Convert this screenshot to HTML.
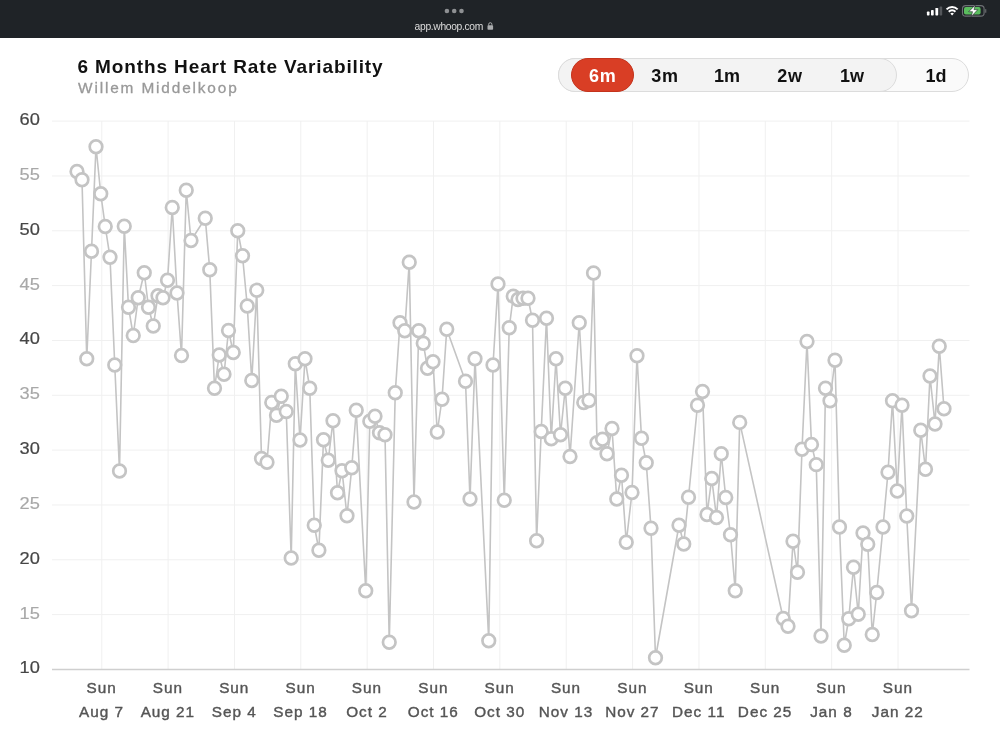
<!DOCTYPE html>
<html>
<head>
<meta charset="utf-8">
<title>6 Months Heart Rate Variability</title>
<style>
html,body{margin:0;padding:0;}
body{width:1000px;height:734px;overflow:hidden;background:#fff;position:relative;font-family:"Liberation Sans",sans-serif;}
.topbar{position:absolute;left:0;top:0;width:1000px;height:38px;background:#1f2327;}
.dots{position:absolute;top:8.75px;left:444.6px;}
.dots i{display:block;position:absolute;width:4.6px;height:4.6px;border-radius:50%;background:#8e9093;top:0;}
.url{position:absolute;top:19.5px;left:414.6px;color:#dcdcdc;font-size:10.3px;line-height:14px;white-space:nowrap;letter-spacing:-0.33px;}
.title{position:absolute;left:77.5px;top:53.5px;font-size:19px;line-height:26px;font-weight:bold;color:#111;white-space:nowrap;letter-spacing:0.88px;}
.sub{position:absolute;left:78px;top:77.8px;font-size:15.4px;line-height:20px;color:#999;white-space:nowrap;letter-spacing:1.85px;-webkit-text-stroke:0.3px #999;}
.pill{position:absolute;box-sizing:border-box;top:58px;height:34px;border-radius:17px;border:1px solid #dcdcdc;}
.outer{left:558px;width:411px;background:#fafafa;}
.inner{left:558px;width:338.5px;background:#f3f3f3;}
.active{left:571px;width:63px;background:#d93e25;border-color:#c4331c;}
.seg{position:absolute;top:58.6px;height:34px;line-height:34px;width:62px;text-align:center;font-size:18px;font-weight:bold;color:#111;}
.seg.w{letter-spacing:0.9px;text-indent:0.9px;}
.seg.on{color:#fff;}
.yl{position:absolute;left:0;width:39.9px;text-align:right;font-size:16px;line-height:20px;transform:scaleX(1.14);transform-origin:100% 50%;}
.yl.d{color:#464646;-webkit-text-stroke:0.2px #464646;}
.yl.l{color:#a8a8a8;-webkit-text-stroke:0.15px #a8a8a8;}
.xl{position:absolute;top:676.2px;width:80px;text-align:center;font-size:15.3px;line-height:23.4px;color:#555;white-space:nowrap;letter-spacing:1px;-webkit-text-stroke:0.4px #555;}
svg{position:absolute;left:0;top:0;}
</style>
</head>
<body>
<div class="topbar">
  <div class="url">app.whoop.com</div>
</div>
<div class="title">6 Months Heart Rate Variability</div>
<div class="sub">Willem Middelkoop</div>

<div class="pill outer"></div>
<div class="pill inner"></div>
<div class="pill active"></div>
<div class="seg on w" style="left:571.4px">6m</div>
<div class="seg w" style="left:633.6px">3m</div>
<div class="seg" style="left:696px">1m</div>
<div class="seg w" style="left:758.6px">2w</div>
<div class="seg" style="left:820.9px">1w</div>
<div class="seg" style="left:905px">1d</div>

<div class="yl d" style="top:658.45px">10</div>
<div class="yl l" style="top:603.62px">15</div>
<div class="yl d" style="top:548.78px">20</div>
<div class="yl l" style="top:493.95px">25</div>
<div class="yl d" style="top:439.11px">30</div>
<div class="yl l" style="top:384.27px">35</div>
<div class="yl d" style="top:329.44px">40</div>
<div class="yl l" style="top:274.61px">45</div>
<div class="yl d" style="top:219.77px">50</div>
<div class="yl l" style="top:164.94px">55</div>
<div class="yl d" style="top:110.1px">60</div>

<div class="xl" style="left:61.55px"><span>Sun</span><br><span>Aug 7</span></div>
<div class="xl" style="left:127.9px"><span>Sun</span><br><span>Aug 21</span></div>
<div class="xl" style="left:194.26px"><span>Sun</span><br><span>Sep 4</span></div>
<div class="xl" style="left:260.61px"><span>Sun</span><br><span>Sep 18</span></div>
<div class="xl" style="left:326.97px"><span>Sun</span><br><span>Oct 2</span></div>
<div class="xl" style="left:393.32px"><span>Sun</span><br><span>Oct 16</span></div>
<div class="xl" style="left:459.67px"><span>Sun</span><br><span>Oct 30</span></div>
<div class="xl" style="left:526.03px"><span>Sun</span><br><span>Nov 13</span></div>
<div class="xl" style="left:592.38px"><span>Sun</span><br><span>Nov 27</span></div>
<div class="xl" style="left:658.74px"><span>Sun</span><br><span>Dec 11</span></div>
<div class="xl" style="left:725.09px"><span>Sun</span><br><span>Dec 25</span></div>
<div class="xl" style="left:791.44px"><span>Sun</span><br><span>Jan 8</span></div>
<div class="xl" style="left:857.8px"><span>Sun</span><br><span>Jan 22</span></div>


<svg width="1000" height="734" viewBox="0 0 1000 734">
  <g stroke="#f0f0f0" stroke-width="1" fill="none">
<line x1="52" x2="969.5" y1="614.62" y2="614.62"/>
<line x1="52" x2="969.5" y1="559.78" y2="559.78"/>
<line x1="52" x2="969.5" y1="504.95" y2="504.95"/>
<line x1="52" x2="969.5" y1="450.11" y2="450.11"/>
<line x1="52" x2="969.5" y1="395.27" y2="395.27"/>
<line x1="52" x2="969.5" y1="340.44" y2="340.44"/>
<line x1="52" x2="969.5" y1="285.61" y2="285.61"/>
<line x1="52" x2="969.5" y1="230.77" y2="230.77"/>
<line x1="52" x2="969.5" y1="175.94" y2="175.94"/>
<line x1="52" x2="969.5" y1="121.1" y2="121.1"/>

<line x1="101.75" x2="101.75" y1="121" y2="669.5"/>
<line x1="168.1" x2="168.1" y1="121" y2="669.5"/>
<line x1="234.46" x2="234.46" y1="121" y2="669.5"/>
<line x1="300.81" x2="300.81" y1="121" y2="669.5"/>
<line x1="367.17" x2="367.17" y1="121" y2="669.5"/>
<line x1="433.52" x2="433.52" y1="121" y2="669.5"/>
<line x1="499.87" x2="499.87" y1="121" y2="669.5"/>
<line x1="566.23" x2="566.23" y1="121" y2="669.5"/>
<line x1="632.58" x2="632.58" y1="121" y2="669.5"/>
<line x1="698.94" x2="698.94" y1="121" y2="669.5"/>
<line x1="765.29" x2="765.29" y1="121" y2="669.5"/>
<line x1="831.64" x2="831.64" y1="121" y2="669.5"/>
<line x1="898" x2="898" y1="121" y2="669.5"/>

  </g>
  <line x1="52" x2="969.5" y1="669.5" y2="669.5" stroke="#cfcfcf" stroke-width="1.5"/>
  <polyline fill="none" stroke="#c4c4c4" stroke-width="1.6" stroke-linejoin="round" points="77,171.5 82,179.75 86.75,358.75 91.5,251.25 96,146.75 100.75,193.75 105.25,226.5 110,257.25 114.75,365 119.5,471 124.25,226.25 128.5,307.25 133.25,335.5 138.25,297.75 144.25,272.75 148.5,307.25 153.25,326 158,295.75 163,297.75 167.5,280.25 172.25,207.5 177,293 181.5,355.5 186.25,190.25 191,240.5 205.25,218.25 209.75,269.75 214.5,388.25 219.25,355 224,374.25 228.5,330.5 233.25,352.5 237.75,230.75 242.5,255.75 247.25,306 251.75,380.5 256.75,290.25 261.5,458.5 267,462.25 271.75,402.5 276.5,415.25 281.25,396.25 286.25,411.5 291.2,558 295.3,363.75 300,440 305,358.75 309.75,388.25 314.25,525.25 318.9,550.25 323.5,439.75 328.25,460.25 333,420.75 337.5,492.75 342,470.75 347,515.75 351.75,467.75 356.25,410.25 365.75,590.75 369.8,421.25 375,416.25 379.5,432.75 385,434.75 389.25,642.25 395.25,392.75 400,322.75 404.75,330.75 409.25,262.25 414,502 418.75,330.75 423.25,343.25 427.5,368.25 433,361.75 437.25,432 442,399.25 446.75,329.25 465.5,381.25 470,499 475,358.75 488.75,640.75 493,365 498,284 504.25,500.25 509.25,327.75 513.25,296.25 518,299.5 523,298.25 528,298.25 532.5,320.25 536.6,540.75 541.2,431.5 546.5,318.25 551.25,438.75 556,358.75 560.5,434.75 565.25,388.25 570,456.5 579.25,322.75 583.75,402.5 589,400.5 593.5,273 597,442.75 602.5,439.25 607,453.75 612,428.5 616.75,499 621.5,475.25 626.25,542.25 632,492.5 637,355.75 641.5,438.25 646.25,462.75 651,528.25 655.5,657.75 679,525.25 683.75,544 688.5,497.25 697.5,405.25 702.5,391.5 707,514.5 711.75,478.5 716.5,517.5 721.25,453.75 725.75,497.5 730.5,534.75 735.25,590.75 739.7,422.45 783.25,618.5 788,626.25 793,541.25 797.5,572.25 802,449.25 807,341.5 811.5,444.5 816.25,464.65 821,636 825.5,388.25 830,400.75 835,360.25 839.5,527 844.25,645.25 848.75,618.75 853.5,567.25 858.25,614.25 863,533 867.75,544.25 872.25,634.5 876.75,592.5 883,527 888,472.25 892.5,400.75 897.25,491 902,405.25 906.75,516 911.5,610.75 920.75,430.25 925.5,469.25 930,376 935,424 939.25,346.25 944,408.75"/>
  <g fill="#fff" stroke="#c4c4c4" stroke-width="2.7">
<circle cx="77" cy="171.5" r="6.3"/>
<circle cx="82" cy="179.75" r="6.3"/>
<circle cx="86.75" cy="358.75" r="6.3"/>
<circle cx="91.5" cy="251.25" r="6.3"/>
<circle cx="96" cy="146.75" r="6.3"/>
<circle cx="100.75" cy="193.75" r="6.3"/>
<circle cx="105.25" cy="226.5" r="6.3"/>
<circle cx="110" cy="257.25" r="6.3"/>
<circle cx="114.75" cy="365" r="6.3"/>
<circle cx="119.5" cy="471" r="6.3"/>
<circle cx="124.25" cy="226.25" r="6.3"/>
<circle cx="128.5" cy="307.25" r="6.3"/>
<circle cx="133.25" cy="335.5" r="6.3"/>
<circle cx="138.25" cy="297.75" r="6.3"/>
<circle cx="144.25" cy="272.75" r="6.3"/>
<circle cx="148.5" cy="307.25" r="6.3"/>
<circle cx="153.25" cy="326" r="6.3"/>
<circle cx="158" cy="295.75" r="6.3"/>
<circle cx="163" cy="297.75" r="6.3"/>
<circle cx="167.5" cy="280.25" r="6.3"/>
<circle cx="172.25" cy="207.5" r="6.3"/>
<circle cx="177" cy="293" r="6.3"/>
<circle cx="181.5" cy="355.5" r="6.3"/>
<circle cx="186.25" cy="190.25" r="6.3"/>
<circle cx="191" cy="240.5" r="6.3"/>
<circle cx="205.25" cy="218.25" r="6.3"/>
<circle cx="209.75" cy="269.75" r="6.3"/>
<circle cx="214.5" cy="388.25" r="6.3"/>
<circle cx="219.25" cy="355" r="6.3"/>
<circle cx="224" cy="374.25" r="6.3"/>
<circle cx="228.5" cy="330.5" r="6.3"/>
<circle cx="233.25" cy="352.5" r="6.3"/>
<circle cx="237.75" cy="230.75" r="6.3"/>
<circle cx="242.5" cy="255.75" r="6.3"/>
<circle cx="247.25" cy="306" r="6.3"/>
<circle cx="251.75" cy="380.5" r="6.3"/>
<circle cx="256.75" cy="290.25" r="6.3"/>
<circle cx="261.5" cy="458.5" r="6.3"/>
<circle cx="267" cy="462.25" r="6.3"/>
<circle cx="271.75" cy="402.5" r="6.3"/>
<circle cx="276.5" cy="415.25" r="6.3"/>
<circle cx="281.25" cy="396.25" r="6.3"/>
<circle cx="286.25" cy="411.5" r="6.3"/>
<circle cx="291.2" cy="558" r="6.3"/>
<circle cx="295.3" cy="363.75" r="6.3"/>
<circle cx="300" cy="440" r="6.3"/>
<circle cx="305" cy="358.75" r="6.3"/>
<circle cx="309.75" cy="388.25" r="6.3"/>
<circle cx="314.25" cy="525.25" r="6.3"/>
<circle cx="318.9" cy="550.25" r="6.3"/>
<circle cx="323.5" cy="439.75" r="6.3"/>
<circle cx="328.25" cy="460.25" r="6.3"/>
<circle cx="333" cy="420.75" r="6.3"/>
<circle cx="337.5" cy="492.75" r="6.3"/>
<circle cx="342" cy="470.75" r="6.3"/>
<circle cx="347" cy="515.75" r="6.3"/>
<circle cx="351.75" cy="467.75" r="6.3"/>
<circle cx="356.25" cy="410.25" r="6.3"/>
<circle cx="365.75" cy="590.75" r="6.3"/>
<circle cx="369.8" cy="421.25" r="6.3"/>
<circle cx="375" cy="416.25" r="6.3"/>
<circle cx="379.5" cy="432.75" r="6.3"/>
<circle cx="385" cy="434.75" r="6.3"/>
<circle cx="389.25" cy="642.25" r="6.3"/>
<circle cx="395.25" cy="392.75" r="6.3"/>
<circle cx="400" cy="322.75" r="6.3"/>
<circle cx="404.75" cy="330.75" r="6.3"/>
<circle cx="409.25" cy="262.25" r="6.3"/>
<circle cx="414" cy="502" r="6.3"/>
<circle cx="418.75" cy="330.75" r="6.3"/>
<circle cx="423.25" cy="343.25" r="6.3"/>
<circle cx="427.5" cy="368.25" r="6.3"/>
<circle cx="433" cy="361.75" r="6.3"/>
<circle cx="437.25" cy="432" r="6.3"/>
<circle cx="442" cy="399.25" r="6.3"/>
<circle cx="446.75" cy="329.25" r="6.3"/>
<circle cx="465.5" cy="381.25" r="6.3"/>
<circle cx="470" cy="499" r="6.3"/>
<circle cx="475" cy="358.75" r="6.3"/>
<circle cx="488.75" cy="640.75" r="6.3"/>
<circle cx="493" cy="365" r="6.3"/>
<circle cx="498" cy="284" r="6.3"/>
<circle cx="504.25" cy="500.25" r="6.3"/>
<circle cx="509.25" cy="327.75" r="6.3"/>
<circle cx="513.25" cy="296.25" r="6.3"/>
<circle cx="518" cy="299.5" r="6.3"/>
<circle cx="523" cy="298.25" r="6.3"/>
<circle cx="528" cy="298.25" r="6.3"/>
<circle cx="532.5" cy="320.25" r="6.3"/>
<circle cx="536.6" cy="540.75" r="6.3"/>
<circle cx="541.2" cy="431.5" r="6.3"/>
<circle cx="546.5" cy="318.25" r="6.3"/>
<circle cx="551.25" cy="438.75" r="6.3"/>
<circle cx="556" cy="358.75" r="6.3"/>
<circle cx="560.5" cy="434.75" r="6.3"/>
<circle cx="565.25" cy="388.25" r="6.3"/>
<circle cx="570" cy="456.5" r="6.3"/>
<circle cx="579.25" cy="322.75" r="6.3"/>
<circle cx="583.75" cy="402.5" r="6.3"/>
<circle cx="589" cy="400.5" r="6.3"/>
<circle cx="593.5" cy="273" r="6.3"/>
<circle cx="597" cy="442.75" r="6.3"/>
<circle cx="602.5" cy="439.25" r="6.3"/>
<circle cx="607" cy="453.75" r="6.3"/>
<circle cx="612" cy="428.5" r="6.3"/>
<circle cx="616.75" cy="499" r="6.3"/>
<circle cx="621.5" cy="475.25" r="6.3"/>
<circle cx="626.25" cy="542.25" r="6.3"/>
<circle cx="632" cy="492.5" r="6.3"/>
<circle cx="637" cy="355.75" r="6.3"/>
<circle cx="641.5" cy="438.25" r="6.3"/>
<circle cx="646.25" cy="462.75" r="6.3"/>
<circle cx="651" cy="528.25" r="6.3"/>
<circle cx="655.5" cy="657.75" r="6.3"/>
<circle cx="679" cy="525.25" r="6.3"/>
<circle cx="683.75" cy="544" r="6.3"/>
<circle cx="688.5" cy="497.25" r="6.3"/>
<circle cx="697.5" cy="405.25" r="6.3"/>
<circle cx="702.5" cy="391.5" r="6.3"/>
<circle cx="707" cy="514.5" r="6.3"/>
<circle cx="711.75" cy="478.5" r="6.3"/>
<circle cx="716.5" cy="517.5" r="6.3"/>
<circle cx="721.25" cy="453.75" r="6.3"/>
<circle cx="725.75" cy="497.5" r="6.3"/>
<circle cx="730.5" cy="534.75" r="6.3"/>
<circle cx="735.25" cy="590.75" r="6.3"/>
<circle cx="739.7" cy="422.45" r="6.3"/>
<circle cx="783.25" cy="618.5" r="6.3"/>
<circle cx="788" cy="626.25" r="6.3"/>
<circle cx="793" cy="541.25" r="6.3"/>
<circle cx="797.5" cy="572.25" r="6.3"/>
<circle cx="802" cy="449.25" r="6.3"/>
<circle cx="807" cy="341.5" r="6.3"/>
<circle cx="811.5" cy="444.5" r="6.3"/>
<circle cx="816.25" cy="464.65" r="6.3"/>
<circle cx="821" cy="636" r="6.3"/>
<circle cx="825.5" cy="388.25" r="6.3"/>
<circle cx="830" cy="400.75" r="6.3"/>
<circle cx="835" cy="360.25" r="6.3"/>
<circle cx="839.5" cy="527" r="6.3"/>
<circle cx="844.25" cy="645.25" r="6.3"/>
<circle cx="848.75" cy="618.75" r="6.3"/>
<circle cx="853.5" cy="567.25" r="6.3"/>
<circle cx="858.25" cy="614.25" r="6.3"/>
<circle cx="863" cy="533" r="6.3"/>
<circle cx="867.75" cy="544.25" r="6.3"/>
<circle cx="872.25" cy="634.5" r="6.3"/>
<circle cx="876.75" cy="592.5" r="6.3"/>
<circle cx="883" cy="527" r="6.3"/>
<circle cx="888" cy="472.25" r="6.3"/>
<circle cx="892.5" cy="400.75" r="6.3"/>
<circle cx="897.25" cy="491" r="6.3"/>
<circle cx="902" cy="405.25" r="6.3"/>
<circle cx="906.75" cy="516" r="6.3"/>
<circle cx="911.5" cy="610.75" r="6.3"/>
<circle cx="920.75" cy="430.25" r="6.3"/>
<circle cx="925.5" cy="469.25" r="6.3"/>
<circle cx="930" cy="376" r="6.3"/>
<circle cx="935" cy="424" r="6.3"/>
<circle cx="939.25" cy="346.25" r="6.3"/>
<circle cx="944" cy="408.75" r="6.3"/>
  </g>
  <!-- status icons -->
  <g>
    <rect x="926.9" y="11.6" width="2.6" height="3.9" rx="0.7" fill="#fff"/>
    <rect x="931" y="10.1" width="2.7" height="5.4" rx="0.7" fill="#fff"/>
    <rect x="935.4" y="7.9" width="2.8" height="7.6" rx="0.7" fill="#fff"/>
    <rect x="939.6" y="6.4" width="2.6" height="9.1" rx="0.7" fill="#54575b"/>
  </g>
  <g fill="none" stroke="#fff" stroke-width="2">
    <path d="M946.55 9.4 A7.9 7.9 0 0 1 957.65 9.4"/>
    <path d="M948.75 11.75 A4.75 4.75 0 0 1 955.45 11.75"/>
  </g>
  <path d="M952.1 15.6 L950.3 13.5 A2.6 2.6 0 0 1 953.9 13.5 Z" fill="#fff"/>
  <rect x="962.5" y="5.6" width="21.6" height="10.5" rx="3.2" fill="none" stroke="#6d7074" stroke-width="1.1"/>
  <rect x="964" y="7.1" width="16.6" height="7.5" rx="1.8" fill="#5abc5e"/>
  <rect x="985.2" y="9.1" width="1.1" height="3.7" rx="0.55" fill="#6d7074"/>
  <path d="M975.4 4.9 L968.7 11.7 L972.5 11.7 L971.2 16.7 L977.8 9.6 L974 9.6 Z" fill="#fff" stroke="#1f2327" stroke-width="0.6" stroke-linejoin="round"/>
  <g fill="#8e9093"><circle cx="446.9" cy="11" r="2.3"/><circle cx="454.2" cy="11" r="2.3"/><circle cx="461.5" cy="11" r="2.3"/></g>
  <!-- lock -->
  <g>
    <rect x="487.5" y="25.3" width="5.6" height="4.5" rx="0.8" fill="#a9abad"/>
    <path d="M488.7 25.6 V24.3 A1.6 1.6 0 0 1 491.9 24.3 V25.6" fill="none" stroke="#a9abad" stroke-width="1"/>
  </g>
</svg>
</body>
</html>
